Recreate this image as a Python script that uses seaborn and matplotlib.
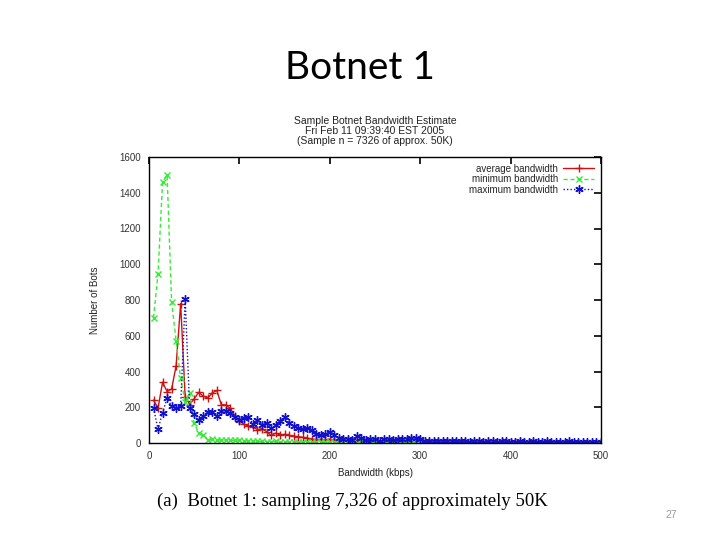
import numpy as np
import pandas as pd
import seaborn as sns
import matplotlib.pyplot as plt

# bandwidth bins (kbps)
bandwidth = list(range(5, 505, 5))

avg_bw = [240, 195, 340, 288, 302, 432, 780, 260, 215, 248,
          283, 262, 252, 280, 294, 214, 213, 194, 150, 122,
          105, 95, 90, 75, 80, 64, 42, 55, 45, 48,
          42, 38, 35, 32, 27, 22, 19, 20, 17, 22,
          15, 14, 15, 14, 13, 14, 12, 11, 10, 10,
          10, 9, 10, 8, 9, 8, 9, 7, 8, 7,
          6, 6, 5, 6, 5, 5, 6, 4, 5, 5,
          4, 5, 4, 4, 3, 4, 4, 3, 3, 4,
          3, 3, 3, 2, 3, 3, 2, 3, 2, 2,
          2, 2, 2, 2, 1, 2, 2, 1, 2, 1]

min_bw = [700, 948, 1460, 1500, 788, 572, 362, 231, 280, 112,
          54, 47, 17, 20, 18, 15, 17, 15, 14, 15,
          12, 10, 12, 10, 9, 8, 8, 9, 7, 8,
          6, 5, 6, 5, 4, 4, 5, 4, 3, 4,
          3, 3, 4, 2, 3, 2, 3, 2, 2, 3,
          2, 2, 1, 2, 2, 1, 2, 1, 1, 1,
          1, 0, 1, 1, 0, 1, 0, 1, 0, 0,
          1, 0, 0, 1, 0, 0, 1, 0, 0, 0,
          0, 1, 0, 0, 0, 1, 0, 0, 0, 0,
          0, 0, 1, 0, 0, 0, 0, 0, 1, 0]

max_bw = [195, 77, 170, 250, 206, 198, 207, 805, 195, 161,
          130, 151, 175, 175, 151, 179, 179, 166, 143, 131,
          138, 147, 106, 128, 101, 112, 82, 100, 122, 148,
          110, 97, 86, 79, 84, 74, 48, 47, 53, 60,
          42, 29, 23, 22, 19, 40, 28, 19, 22, 22,
          13, 24, 20, 18, 22, 24, 20, 26, 29, 22,
          12, 10, 10, 12, 11, 9, 10, 11, 9, 10,
          8, 9, 10, 8, 9, 11, 8, 10, 9, 8,
          7, 9, 8, 7, 10, 8, 7, 9, 8, 7,
          8, 7, 9, 8, 6, 7, 8, 7, 6, 5]

series_names = ["average bandwidth", "minimum bandwidth", "maximum bandwidth"]

df = pd.DataFrame({"bw": bandwidth, "avg": avg_bw, "min": min_bw, "max": max_bw})

sns.set_style("white")
plt.rcParams["font.family"] = ["Liberation Sans", "DejaVu Sans"]

fig = plt.figure(figsize=(7.2, 5.4), dpi=100)
ax = fig.add_axes([149 / 720, 1 - 443 / 540, 452 / 720, 286 / 540])

red, green, blue = "#cc1111", "#33ee33", "#1111cc"
sns.lineplot(data=df, x="bw", y="avg", ax=ax, color=red, lw=1.0,
             marker="+", markersize=6, markeredgewidth=1.0, markeredgecolor=red,
             label=series_names[0])
sns.lineplot(data=df, x="bw", y="min", ax=ax, color=green, lw=1.0, linestyle=(0, (3, 2)),
             marker="x", markersize=4.5, markeredgewidth=1.0, markeredgecolor=green,
             label=series_names[1])
sns.lineplot(data=df, x="bw", y="max", ax=ax, color=blue, lw=1.0, linestyle=(0, (1, 1.5)),
             marker=(6, 2, 0), markersize=6, markeredgewidth=1.0, markeredgecolor=blue,
             label=series_names[2])

ax.set_xlim(0, 500)
ax.set_ylim(0, 1600)
ax.set_xticks(range(0, 501, 100))
ax.set_yticks(range(0, 1601, 200))
ax.tick_params(direction="in", top=True, right=True, length=5, width=1.2,
               labelsize=7, colors="black", labelcolor="#333333", pad=6)
for s in ax.spines.values():
    s.set_color("black")
    s.set_linewidth(1.0)

ax.set_xlabel("Bandwidth (kbps)", fontsize=7, color="#222222", labelpad=5)
ax.set_ylabel("Number of Bots", fontsize=7, color="#222222", labelpad=14)
ax.set_title("Sample Botnet Bandwidth Estimate\nFri Feb 11 09:39:40 EST 2005\n(Sample n = 7326 of approx. 50K)",
             fontsize=7.5, color="#222222", linespacing=1.0, pad=9)

leg = ax.legend(loc="upper right", frameon=False, markerfirst=False, fontsize=7,
                handlelength=3.2, labelspacing=0.05, borderaxespad=0.3, handletextpad=0.5)

fig.text(0.5, 1 - 68 / 540, "Botnet 1", ha="center", va="center", fontsize=28,
         family=["Lato", "DejaVu Sans"], color="black")
fig.text(157 / 720, 1 - 501 / 540, "(a)  Botnet 1: sampling 7,326 of approximately 50K",
         ha="left", va="center", fontsize=13.5, family=["Liberation Serif", "DejaVu Serif"], color="black")
fig.text(671 / 720, 1 - 515 / 540, "27", ha="center", va="center", fontsize=7.5, color="#999999")

fig.savefig("out.png", dpi=100)
